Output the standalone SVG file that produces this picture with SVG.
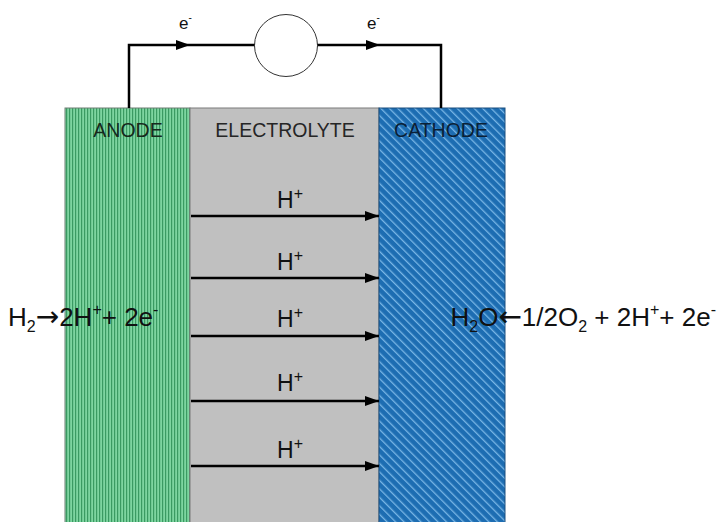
<svg xmlns="http://www.w3.org/2000/svg" width="718" height="522" viewBox="0 0 718 522">
<defs>
<pattern id="anodeP" patternUnits="userSpaceOnUse" width="3" height="10">
<rect width="3" height="10" fill="#7dd5a0"/>
<rect x="0" width="1.2" height="10" fill="#3a9a62"/>
</pattern>
<pattern id="cathP" patternUnits="userSpaceOnUse" width="6" height="6" patternTransform="rotate(-45)">
<rect width="6" height="6" fill="#1d6db2"/>
<rect x="0" width="1.3" height="6" fill="#79b6e6"/>
</pattern>
<marker id="ah" markerWidth="14" markerHeight="10" refX="14" refY="5" orient="auto" markerUnits="userSpaceOnUse">
<path d="M0,0 L14,5 L0,10 Z" fill="#000"/>
</marker>
</defs>
<style>
.t{font-family:"Liberation Sans",Arial,sans-serif}
.lab{font-size:19.5px;text-anchor:middle}
.hp{font-size:23px;fill:#111}
.eq{font-size:26px;fill:#111}
.sm{font-size:16px}
.arw{font-family:"DejaVu Sans",sans-serif;font-size:28px}
.wire{fill:none;stroke:#000;stroke-width:2.5}
.ion{stroke:#000;stroke-width:2.5;marker-end:url(#ah)}
</style>
<rect width="718" height="522" fill="#fff"/>
<g id="anode">
<rect x="65" y="108" width="125" height="420" fill="url(#anodeP)" stroke="#6f7f74" stroke-width="1"/>
<text class="t lab" x="128" y="137" fill="#16291d">ANODE</text>
</g>
<g id="electrolyte">
<rect x="190" y="108" width="189" height="420" fill="#c0c0c0" stroke="#7a7a7a" stroke-width="1"/>
<text class="t lab" x="285" y="137" fill="#262626">ELECTROLYTE</text>
</g>
<g id="cathode">
<rect x="379" y="108" width="126" height="420" fill="url(#cathP)" stroke="#1b4f7e" stroke-width="1"/>
<text class="t lab" x="441" y="137" fill="#0a2036">CATHODE</text>
</g>
<g id="load">
<ellipse cx="286" cy="45.5" rx="31.5" ry="31" fill="#fff" stroke="#333" stroke-width="1"/>
</g>
<g id="connectors">
<path class="wire" d="M129,108 V45 H254.5"/>
<path class="wire" d="M317.5,45 H441 V108"/>
<path d="M176,40 L190,45 L176,50 Z" fill="#000"/>
<path d="M366,40 L380,45 L366,50 Z" fill="#000"/>
<line class="ion" x1="191" y1="216" x2="379" y2="216"/>
<line class="ion" x1="191" y1="278" x2="379" y2="278"/>
<line class="ion" x1="191" y1="336" x2="379" y2="336"/>
<line class="ion" x1="191" y1="401" x2="379" y2="401"/>
<line class="ion" x1="191" y1="466" x2="379" y2="466"/>
</g>
<g id="labels">
<text class="t" x="179" y="29" font-size="17" fill="#111">e<tspan font-size="10" dy="-8">-</tspan></text>
<text class="t" x="367" y="29" font-size="17" fill="#111">e<tspan font-size="10" dy="-8">-</tspan></text>
<text class="t hp" x="277" y="208">H<tspan class="sm" dy="-9">+</tspan></text>
<text class="t hp" x="277" y="270">H<tspan class="sm" dy="-9">+</tspan></text>
<text class="t hp" x="277" y="327">H<tspan class="sm" dy="-9">+</tspan></text>
<text class="t hp" x="277" y="391">H<tspan class="sm" dy="-9">+</tspan></text>
<text class="t hp" x="277" y="458">H<tspan class="sm" dy="-9">+</tspan></text>
<text class="t eq" x="8" y="326">H<tspan class="sm" dy="6">2</tspan><tspan class="arw" dy="-6">→</tspan><tspan>2H</tspan><tspan class="sm" dy="-11">+</tspan><tspan dy="11">+ 2e</tspan><tspan class="sm" dy="-11">-</tspan></text>
<text class="t eq" x="716" y="326" text-anchor="end">H<tspan class="sm" dy="6">2</tspan><tspan dy="-6">O</tspan><tspan class="arw">←</tspan><tspan>1/2O</tspan><tspan class="sm" dy="6">2</tspan><tspan dy="-6"> + 2H</tspan><tspan class="sm" dy="-11">+</tspan><tspan dy="11">+ 2e</tspan><tspan class="sm" dy="-11">-</tspan></text>
</g>
</svg>
